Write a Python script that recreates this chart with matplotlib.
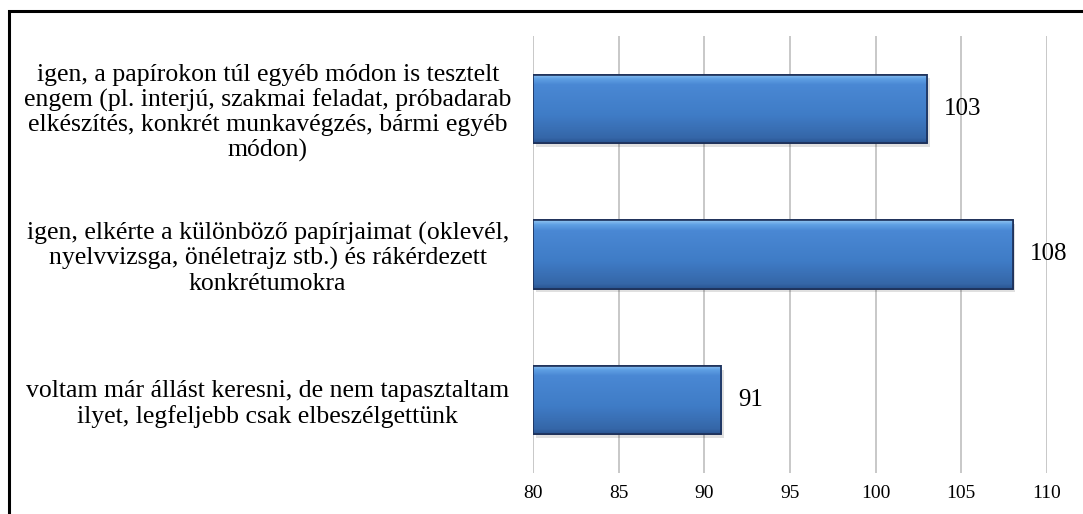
import matplotlib
matplotlib.use("Agg")
import matplotlib.pyplot as plt
import numpy as np
from matplotlib.patches import Rectangle
from matplotlib.colors import LinearSegmentedColormap

categories = [
    "igen, a papírokon túl egyéb módon is tesztelt\nengem (pl. interjú, szakmai feladat, próbadarab\nelkészítés, konkrét munkavégzés, bármi egyéb\nmódon)",
    "igen, elkérte a különböző papírjaimat (oklevél,\nnyelvvizsga, önéletrajz stb.) és rákérdezett\nkonkrétumokra",
    "voltam már állást keresni, de nem tapasztaltam\nilyet, legfeljebb csak elbeszélgettünk",
]
values = [103, 108, 91]
xticks = [80, 85, 90, 95, 100, 105, 110]

plt.rcParams['font.family'] = ['Liberation Serif', 'DejaVu Serif']

W, H = 1083, 514
fig = plt.figure(figsize=(W / 100, H / 100), dpi=100)
ax = fig.add_axes([533 / W, 1 - 473 / H, 514 / W, 437 / H])

ypos = np.arange(len(categories))[::-1]
base = xticks[0]
bars = ax.barh(ypos, [v - base for v in values], left=base, height=0.47,
               color='#3f7cc6', edgecolor='#1c2f58', linewidth=1.2, zorder=3)

grad = np.linspace(0, 1, 100).reshape(-1, 1)
cmap = LinearSegmentedColormap.from_list('bev', [
    (0.0, '#8fc3f0'), (0.06, '#5fa0e4'), (0.15, '#4a88d4'),
    (0.6, '#3f7cc6'), (0.93, '#3566a8'), (1.0, '#2a5592')])
for b in bars:
    x0, y0 = b.get_x(), b.get_y()
    w, h = b.get_width(), b.get_height()
    im = ax.imshow(grad[::-1], extent=[x0, x0 + w, y0, y0 + h], aspect='auto',
                   cmap=cmap, zorder=3.1, origin='lower')
    im.set_clip_path(b)
    ax.add_patch(Rectangle((x0 + 0.15, y0 - 0.025), w, h, facecolor='#000000',
                           alpha=0.12, edgecolor='none', zorder=2.5))
    ax.add_patch(Rectangle((x0, y0), w, h, facecolor='none', edgecolor='#1c2f58',
                           linewidth=1.2, zorder=3.2))

for b, v in zip(bars, values):
    ax.annotate(str(v), xy=(b.get_x() + b.get_width(), b.get_y() + b.get_height() / 2),
                xytext=(12, 0), textcoords='offset points', va='center', ha='left',
                fontsize=18, color='#000000', zorder=4)

ax.set_xlim(xticks[0], xticks[-1])
ax.set_ylim(-0.5, len(categories) - 0.5)
ax.set_xticks(xticks)
ax.set_xticklabels([str(t) for t in xticks], fontsize=14)
ax.set_yticks(ypos)
ax.set_yticklabels(categories, fontsize=18.5, linespacing=1.15)
for lab in ax.get_yticklabels():
    lab.set_ha('center')
    lab.set_multialignment('center')
ax.tick_params(axis='y', length=0, pad=191)
ax.tick_params(axis='x', length=0, pad=9)
ax.grid(axis='x', color='#bfbfbf', linewidth=1.2, zorder=0)
ax.set_axisbelow(True)
for s in ax.spines.values():
    s.set_visible(False)

fig.add_artist(Rectangle((8.5 / W, -0.1), 1.2, 1 - 11 / H + 0.1,
                         transform=fig.transFigure, facecolor='none',
                         edgecolor='#000000', linewidth=2.2))

fig.savefig('out.png', dpi=100)
